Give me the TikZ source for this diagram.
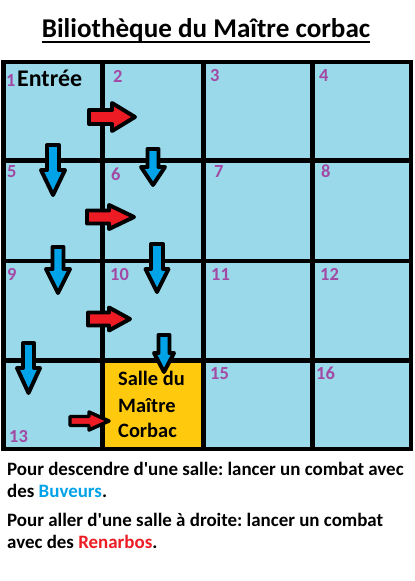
\documentclass[tikz,border=0pt]{standalone}
\usepackage{fontspec}
\setmainfont{Carlito}[Ligatures=TeXOff]
\frenchspacing
\definecolor{cellblue}{HTML}{99D9EA}
\definecolor{cellorange}{HTML}{FFC90E}
\definecolor{arrblue}{HTML}{00A2E8}
\definecolor{arrred}{HTML}{ED1C24}
\definecolor{numpurple}{HTML}{A349A4}
\tikzset{
  num/.style={anchor=base west, inner sep=0pt, text=numpurple, font=\fontsize{18.5}{20}\selectfont\bfseries},
  gridline/.style={line width=4.5, line cap=rect},
  boxarrow/.style={line width=#1, line join=round, draw=black},
  info/.style={anchor=base west, inner sep=0pt, font=\fontsize{19}{22}\selectfont\bfseries},
  boss/.style={anchor=base west, inner sep=0pt, font=\fontsize{20.5}{26}\selectfont\bfseries}
}
% right block arrow: x0, xbase, xtip, y, shaft half, head half, line width
\newcommand\RArrow[7]{%
  \draw[boxarrow=#7, fill=arrred] (#1,#4-#5) -- (#2,#4-#5) -- (#2,#4-#6) -- (#3,#4)
    -- (#2,#4+#6) -- (#2,#4+#5) -- (#1,#4+#5) -- cycle;}
% down block arrow: x, ytop, ybase, ytip, shaft half, head half, line width
\newcommand\DArrow[7]{%
  \draw[boxarrow=#7, fill=arrblue] (#1-#5,#2) -- (#1+#5,#2) -- (#1+#5,#3) -- (#1+#6,#3)
    -- (#1,#4) -- (#1-#6,#3) -- (#1-#5,#3) -- cycle;}
\begin{document}
\begin{tikzpicture}[x=1bp,y=-1bp]
\useasboundingbox (0,0) rectangle (414,581);
\fill[white] (0,0) rectangle (414,581);
% title
\node[anchor=base, inner sep=0pt, font=\fontsize{27.2}{30}\selectfont\bfseries] (title) at (206,38) {Biliothèque du Maître corbac};
\draw[line width=2] ([yshift=-4bp]title.base west) -- ([yshift=-4bp]title.base east);
% cells
\fill[cellblue] (3.5,62) rectangle (411,449);
\fill[cellorange] (102.5,360.5) rectangle (203.5,449);
% grid
\draw[gridline] (3.5,62) rectangle (411,449);
\foreach \x in {102.5,203.5,312.5} \draw[gridline] (\x,62) -- (\x,449);
\foreach \y in {160.5,261,360.5} \draw[gridline] (3.5,\y) -- (411,\y);
% numbers
\node[num] (n1) at (6,87) {1};
\node[anchor=base west, inner sep=0pt, font=\fontsize{24}{26}\selectfont\bfseries] (entree) at (17,87) {Entrée};
\node[num] (n2) at (113,83) {2};
\node[num] (n3) at (210,82) {3};
\node[num] (n4) at (319,82) {4};
\node[num] (n5) at (7,177) {5};
\node[num] (n6) at (111,180) {6};
\node[num] (n7) at (214,177) {7};
\node[num] (n8) at (321,177) {8};
\node[num] (n9) at (7,280) {9};
\node[num] (n10) at (110,280) {10};
\node[num] (n11) at (211,280) {11};
\node[num] (n12) at (320,280) {12};
\node[num] (n13) at (9,442) {13};
\node[num] (n15) at (210,379) {15};
\node[num] (n16) at (316,379) {16};
% boss room
\node[boss] (boss1) at (118,385) {Salle du};
\node[boss] (boss2) at (118,412) {Maître};
\node[boss] (boss3) at (118,437) {Corbac};
% arrows right
\RArrow{89}{112}{135}{117}{7}{14}{4}
\RArrow{87}{109}{134}{217}{6.5}{12}{4}
\RArrow{88}{109}{130}{319}{6.5}{11.5}{4}
\RArrow{70}{89}{109}{421}{4.5}{9}{3.5}
% arrows down
\DArrow{53}{145}{170}{195}{6}{12}{4}
\DArrow{153}{149}{167}{185}{5.5}{12}{4}
\DArrow{58}{247}{269}{293}{5.5}{12}{4}
\DArrow{157}{244}{269}{292}{6}{11.5}{4}
\DArrow{28.5}{343}{368}{393}{5.5}{11.5}{4}
\DArrow{164}{335}{353}{372}{5.5}{10}{4}
% legend
\node[info] (l1) at (7,475) {Pour descendre d'une salle: lancer un combat avec};
\node[info] (l2) at (7,497) {des \textcolor{arrblue}{Buveurs}.};
\node[info] (l3) at (7,526) {Pour aller d'une salle à droite: lancer un combat};
\node[info] (l4) at (7,548) {avec des \textcolor{arrred}{Renarbos}.};
\end{tikzpicture}
\end{document}
